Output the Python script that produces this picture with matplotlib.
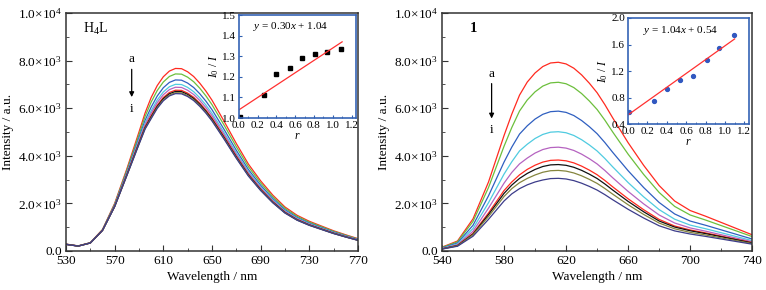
import matplotlib
matplotlib.use("Agg")
import matplotlib.pyplot as plt
from matplotlib.ticker import MultipleLocator, FixedLocator

plt.rcParams['font.family'] = ['Liberation Serif', 'DejaVu Serif']
plt.rcParams['mathtext.fontset'] = 'custom'
plt.rcParams['mathtext.rm'] = 'Liberation Serif'
plt.rcParams['mathtext.it'] = 'Liberation Serif:italic'

# ---------------- Data ----------------

# H4L spectra (a -> i)
wl_left = [530, 540, 550, 560, 570, 580, 590,
           595, 600, 605, 610, 615, 620, 625, 630, 635, 640, 645, 650,
           660, 670, 680, 690, 700, 710, 720, 730, 740, 750, 760, 770]
h4l_a = [290, 215, 350, 900, 2000, 3450, 5000, 5800, 6450, 6950, 7320, 7560, 7670, 7660, 7530, 7330, 7050, 6720, 6340,
         5450, 4520, 3650, 2950, 2350, 1850, 1500, 1250, 1050, 850, 680, 520]
h4l_b = [287, 213, 347, 892, 1970, 3388, 4888, 5652, 6257, 6742, 7100, 7333, 7440, 7430, 7304, 7110, 6839, 6518, 6150,
         5287, 4384, 3541, 2862, 2280, 1795, 1455, 1213, 1019, 825, 660, 504]
h4l_c = [284, 211, 343, 883, 1937, 3319, 4765, 5487, 6044, 6512, 6859, 7084, 7187, 7177, 7056, 6868, 6606, 6297, 5941,
         5107, 4235, 3420, 2764, 2202, 1733, 1406, 1171, 984, 796, 637, 487]
h4l_d = [282, 209, 341, 877, 1913, 3271, 4675, 5371, 5889, 6345, 6683, 6902, 7003, 6994, 6875, 6692, 6437, 6135, 5788,
         4976, 4127, 3332, 2693, 2146, 1689, 1370, 1141, 959, 776, 621, 475]
h4l_e = [281, 208, 339, 872, 1897, 3236, 4615, 5290, 5786, 6234, 6566, 6781, 6880, 6871, 6754, 6575, 6324, 6028, 5687,
         4889, 4054, 3274, 2646, 2108, 1659, 1346, 1121, 942, 762, 610, 466]
h4l_f = [280, 207, 337, 868, 1881, 3205, 4555, 5214, 5682, 6123, 6449, 6660, 6757, 6748, 6634, 6458, 6211, 5920, 5586,
         4801, 3982, 3216, 2599, 2070, 1630, 1322, 1101, 925, 749, 599, 458]
h4l_g = [279, 207, 337, 866, 1874, 3188, 4528, 5179, 5637, 6074, 6398, 6607, 6704, 6695, 6581, 6406, 6162, 5873, 5541,
         4763, 3950, 3190, 2578, 2054, 1617, 1311, 1093, 918, 743, 594, 454]
h4l_h = [278, 206, 336, 864, 1867, 3174, 4500, 5145, 5592, 6026, 6346, 6555, 6650, 6641, 6529, 6355, 6112, 5826, 5497,
         4725, 3919, 3165, 2558, 2037, 1604, 1301, 1084, 910, 737, 590, 451]
h4l_i = [278, 206, 336, 863, 1862, 3164, 4480, 5121, 5560, 5991, 6310, 6517, 6612, 6603, 6491, 6318, 6077, 5793, 5465,
         4698, 3896, 3146, 2543, 2026, 1595, 1293, 1078, 905, 733, 586, 448]

# complex 1 spectra (a -> i)
wl_right = [540, 550, 560, 570, 580,
            585, 590, 595, 600, 605, 610, 615, 620, 625, 630, 635, 640, 645, 650,
            660, 670, 680, 690, 700, 710, 720, 730, 740]
c1_a = [160, 420, 1350, 2900, 4850, 5750, 6550, 7100, 7480, 7750, 7900, 7930, 7860, 7680, 7400, 7050, 6650, 6150, 5600,
        4550, 3600, 2750, 2100, 1700, 1460, 1200, 940, 680]
c1_b = [147, 386, 1242, 2668, 4399, 5187, 5882, 6347, 6687, 6929, 7063, 7089, 7027, 6866, 6616, 6303, 5945, 5498, 5006,
        4068, 3218, 2459, 1873, 1513, 1299, 1068, 837, 605]
c1_c = [128, 336, 1080, 2320, 3735, 4364, 4913, 5261, 5543, 5743, 5854, 5876, 5824, 5691, 5483, 5224, 4928, 4557, 4150,
        3372, 2668, 2038, 1556, 1258, 1080, 888, 696, 503]
c1_d = [112, 294, 945, 2030, 3230, 3749, 4205, 4487, 4727, 4898, 4993, 5012, 4968, 4854, 4677, 4456, 4203, 3887, 3539,
        2876, 2275, 1738, 1336, 1088, 934, 768, 602, 435]
c1_e = [100, 260, 830, 1800, 2850, 3300, 3660, 3905, 4114, 4263, 4345, 4362, 4323, 4224, 4070, 3878, 3658, 3383, 3080,
        2503, 1980, 1513, 1176, 969, 832, 684, 536, 388]
c1_f = [90, 235, 740, 1600, 2540, 2900, 3200, 3430, 3605, 3736, 3808, 3822, 3789, 3702, 3567, 3398, 3205, 2964, 2699,
        2193, 1735, 1326, 1050, 884, 759, 624, 489, 354]
c1_g = [88, 225, 710, 1530, 2420, 2770, 3050, 3260, 3426, 3550, 3618, 3632, 3600, 3517, 3389, 3229, 3046, 2817, 2565,
        2084, 1649, 1260, 1006, 850, 730, 600, 470, 340]
c1_h = [85, 215, 680, 1450, 2290, 2620, 2870, 3050, 3194, 3309, 3373, 3386, 3356, 3279, 3160, 3010, 2840, 2626, 2391,
        1943, 1537, 1174, 932, 782, 672, 552, 432, 313]
c1_i = [80, 200, 620, 1330, 2100, 2400, 2620, 2780, 2900, 2984, 3042, 3053, 3026, 2957, 2849, 2714, 2560, 2368, 2156,
        1752, 1386, 1059, 844, 714, 613, 504, 395, 286]

colors = ['#ff2a1f', '#6cbf3c', '#2f5fc0', '#4fcbe0', '#b563c0', '#ff2a1f', '#111111', '#85853e', '#3c3c8a']

# Stern-Volmer insets
r_left = [0.01, 0.27, 0.40, 0.54, 0.67, 0.81, 0.94, 1.09]
sv_left = [1.005, 1.11, 1.213, 1.245, 1.292, 1.31, 1.32, 1.336]
fit_left = (0.30, 1.04)

r_right = [0.01, 0.27, 0.40, 0.54, 0.67, 0.81, 0.94, 1.09]
sv_right = [0.58, 0.75, 0.93, 1.07, 1.13, 1.36, 1.55, 1.75]
fit_right = (1.04, 0.54)


def y_fmt(v):
    if v == 0:
        return '0.0'
    if v >= 10000:
        return r'1.0$\times$10$^{4}$'
    return '%.1f$\\times$10$^{3}$' % (v / 1000)


def style_main(ax, xticks):
    ax.set_xlim(xticks[0], xticks[-1])
    ax.set_ylim(0, 10000)
    ax.xaxis.set_major_locator(FixedLocator(xticks))
    ax.xaxis.set_minor_locator(FixedLocator([t + 20 for t in xticks[:-1]]))
    ax.yaxis.set_major_locator(MultipleLocator(2000))
    ax.yaxis.set_minor_locator(MultipleLocator(1000))
    ax.set_yticklabels([y_fmt(v) for v in ax.get_yticks()])
    ax.tick_params(which='both', direction='in', labelsize=9.5, color='#333333', pad=3)
    ax.tick_params(which='major', length=4)
    ax.tick_params(which='minor', length=2.5)
    for s in ax.spines.values():
        s.set_color('#333333')
        s.set_linewidth(1.1)
    ax.set_xlabel('Wavelength / nm', fontsize=9.5, labelpad=3)
    ax.set_ylabel('Intensity / a.u.', fontsize=9.5, labelpad=3)


def style_inset(ax, ylim, ystep):
    ax.set_xlim(0, 1.25)
    ax.set_ylim(*ylim)
    ax.xaxis.set_major_locator(MultipleLocator(0.2))
    ax.xaxis.set_minor_locator(MultipleLocator(0.1))
    ax.yaxis.set_major_locator(MultipleLocator(ystep))
    ax.tick_params(which='both', direction='in', labelsize=8, pad=2, color='#3060b0')
    ax.tick_params(which='major', length=2.5)
    ax.tick_params(which='minor', length=1.5)
    for s in ax.spines.values():
        s.set_color('#3563b5')
        s.set_linewidth(1.2)
    ax.set_xlabel('$r$', fontsize=8.5, labelpad=0)
    ax.set_ylabel('$I_0$ / $I$', fontsize=8.5, labelpad=1)


fig = plt.figure(figsize=(7.66, 2.90), dpi=100)

# ---------------- Left: H4L ----------------
ax1 = fig.add_axes([0.0862, 0.1345, 0.381, 0.8207])
for ys, c in zip([h4l_a, h4l_b, h4l_c, h4l_d, h4l_e, h4l_f, h4l_g, h4l_h, h4l_i], colors):
    ax1.plot(wl_left, ys, color=c, lw=0.9)
style_main(ax1, [530, 570, 610, 650, 690, 730, 770])
ax1.text(544, 9350, 'H$_4$L', fontsize=10, va='center')
ax1.text(584, 8050, 'a', fontsize=9.5, ha='center', va='center')
ax1.annotate('', xy=(584, 6350), xytext=(584, 7750),
             arrowprops=dict(arrowstyle='-|>', color='black', lw=0.9, mutation_scale=7))
ax1.text(584, 5950, 'i', fontsize=9.5, ha='center', va='center')

ins1 = fig.add_axes([0.312, 0.593, 0.153, 0.355])
ins1.plot(r_left, sv_left, 's', color='black', ms=2.6)
ins1.plot([0, 1.1], [fit_left[1], fit_left[0] * 1.1 + fit_left[1]], color='#ff3030', lw=0.9)
style_inset(ins1, (1.0, 1.5), 0.1)
ins1.text(0.15, 1.43, '$y$ = 0.30$x$ + 1.04', fontsize=8)

# ---------------- Right: complex 1 ----------------
ax2 = fig.add_axes([0.577, 0.1345, 0.405, 0.8207])
for ys, c in zip([c1_a, c1_b, c1_c, c1_d, c1_e, c1_f, c1_g, c1_h, c1_i], colors):
    ax2.plot(wl_right, ys, color=c, lw=0.9)
style_main(ax2, [540, 580, 620, 660, 700, 740])
ax2.text(558, 9350, '1', fontsize=10.5, fontweight='bold', va='center')
ax2.text(572, 7450, 'a', fontsize=9.5, ha='center', va='center')
ax2.annotate('', xy=(572, 5450), xytext=(572, 7150),
             arrowprops=dict(arrowstyle='-|>', color='black', lw=0.9, mutation_scale=7))
ax2.text(572, 5100, 'i', fontsize=9.5, ha='center', va='center')

ins2 = fig.add_axes([0.820, 0.572, 0.158, 0.366])
ins2.plot(r_right, sv_right, 'o', color='#3158c0', ms=2.8)
ins2.plot([0, 1.1], [fit_right[1], fit_right[0] * 1.1 + fit_right[1]], color='#ff3030', lw=0.9)
style_inset(ins2, (0.4, 2.0), 0.4)
ins2.text(0.15, 1.78, '$y$ = 1.04$x$ + 0.54', fontsize=8)

fig.savefig('out.png', dpi=100)
